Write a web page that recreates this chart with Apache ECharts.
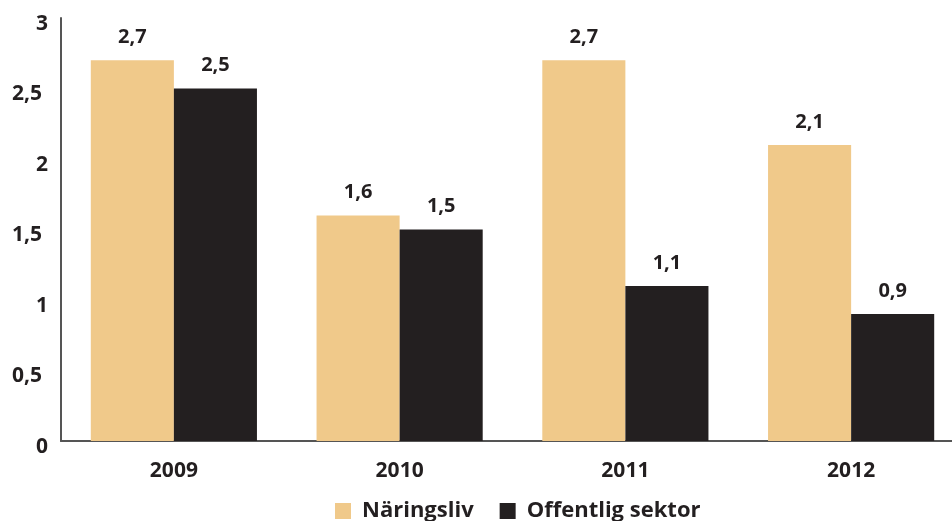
<!DOCTYPE html>
<html><head><meta charset="utf-8">
<script src="https://cdn.jsdelivr.net/npm/echarts@6/dist/echarts.min.js"></script>
<style>html,body{margin:0;padding:0;background:#fff}#c{width:952px;height:521px}</style>
</head><body><div id="c"></div>
<script>
var categories = ['2009', '2010', '2011', '2012'];
var naringsliv = [2.7, 1.6, 2.7, 2.1];
var offentlig = [2.5, 1.5, 1.1, 0.9];
var yTicks = [0, 0.5, 1, 1.5, 2, 2.5, 3];
var seriesNames = ['Näringsliv', 'Offentlig sektor'];

var FONT = 'Open Sans';
var TXT = '#231F20';
function fmt(v) { return String(v).replace('.', ','); }
var labelFont = { color: TXT, fontWeight: 'bold', fontSize: 21, fontFamily: FONT, lineHeight: 12 };
var chart = echarts.init(document.getElementById('c'));
chart.setOption({
  animation: false,
  textStyle: { fontFamily: FONT },
  grid: { left: 61, width: 903, top: 18, height: 423, containLabel: false, outerBoundsMode: 'none' },
  legend: {
    left: 335, top: 500, padding: 0, itemWidth: 16, itemHeight: 16, itemGap: 26,
    icon: 'rect',
    textStyle: { fontFamily: FONT, fontWeight: 'bold', fontSize: 22, color: TXT, padding: [0, 0, 0, 6] },
    data: seriesNames
  },
  xAxis: {
    type: 'category', data: categories,
    axisLine: { lineStyle: { color: '#555', width: 2 } },
    axisTick: { show: false },
    axisLabel: { color: TXT, fontWeight: 'bold', fontSize: 21, fontFamily: FONT, margin: 20 }
  },
  yAxis: {
    type: 'value', min: 0, max: 3, interval: 0.5,
    axisLine: { show: true, lineStyle: { color: '#555', width: 2 } },
    axisTick: { show: false },
    splitLine: { show: false },
    axisLabel: { color: TXT, fontWeight: 'bold', fontSize: 21, fontFamily: FONT, margin: 13,
      verticalAlign: 'top', lineHeight: 12,
      rich: {
        i: labelFont,
        d: Object.assign({}, labelFont, { padding: [0, 6, 0, 0] })
      },
      formatter: function (v) {
        if (yTicks.indexOf(v) < 0) return '';
        return (v % 1 === 0 ? '{i|' : '{d|') + fmt(v) + '}';
      } }
  },
  series: [
    { name: seriesNames[0], type: 'bar', data: naringsliv, barWidth: '36.8%', barGap: '0%',
      itemStyle: { color: '#F0C98A' },
      label: { show: true, position: 'top', distance: 13, color: TXT, fontWeight: 'bold', fontSize: 20, fontFamily: FONT, formatter: function (p) { return fmt(p.value); } } },
    { name: seriesNames[1], type: 'bar', data: offentlig, barWidth: '36.8%', barGap: '0%',
      itemStyle: { color: '#231F20' },
      label: { show: true, position: 'top', distance: 13, color: TXT, fontWeight: 'bold', fontSize: 20, fontFamily: FONT, formatter: function (p) { return fmt(p.value); } } }
  ]
});
</script></body></html>
